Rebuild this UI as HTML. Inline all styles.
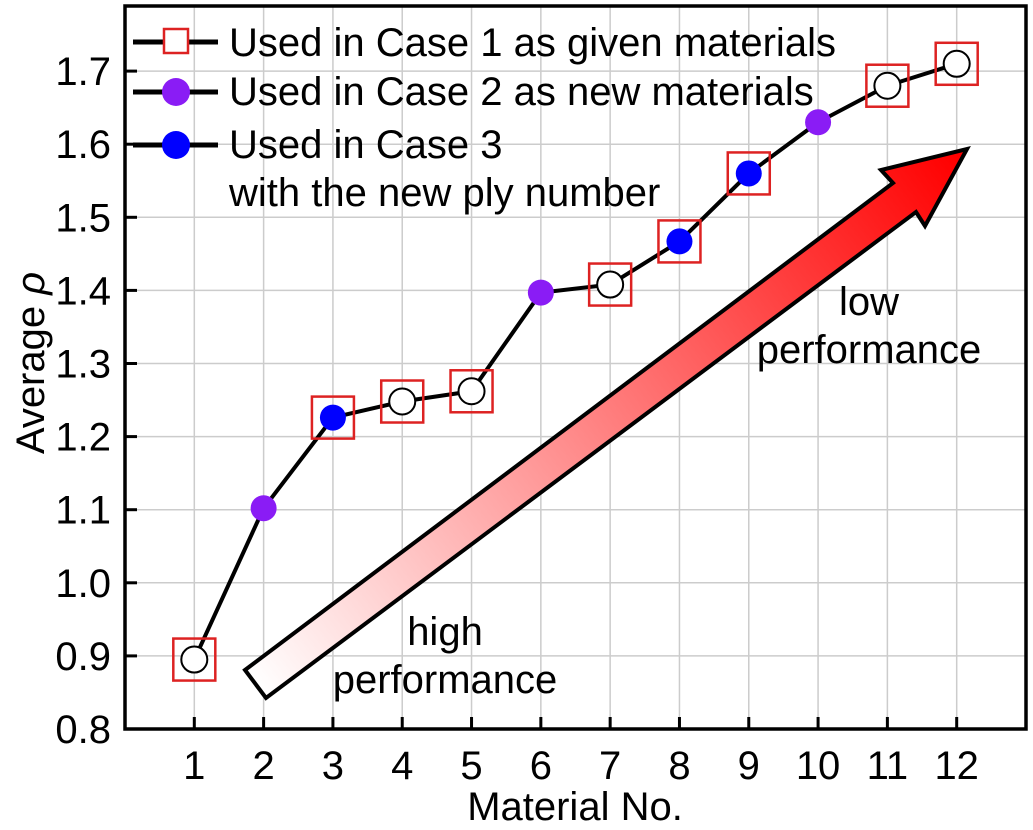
<!DOCTYPE html>
<html><head><meta charset="utf-8"><style>
body{margin:0;background:#fff;}
svg{display:block;font-family:"Liberation Sans",Arial,sans-serif;}
</style></head><body>
<svg id="chart" width="1033" height="830">
<defs><linearGradient id="ag" x1="256" y1="684" x2="960" y2="160" gradientUnits="userSpaceOnUse"><stop offset="0" stop-color="#fff"/><stop offset="1" stop-color="#ff0000"/></linearGradient></defs>
<g id="grid"></g>
<polygon points="245,670 893,183 881,170 967,149 925,226 916,212 266,698" fill="url(#ag)" stroke="#000" stroke-width="4" stroke-linejoin="miter"/>
<text x="445" y="645" font-size="40" text-anchor="middle">high</text>
<text x="445" y="693" font-size="40" text-anchor="middle">performance</text>
<text x="869" y="315" font-size="40" text-anchor="middle">low</text>
<text x="869" y="363" font-size="40" text-anchor="middle">performance</text>
<g id="series"></g>
<g id="axes"></g>
<g font-size="40">
<line x1="133" y1="42" x2="218" y2="42" stroke="#000" stroke-width="5"/>
<rect x="164" y="29" width="24" height="24" fill="#fff" stroke="#d22" stroke-width="2.5"/>
<text x="229" y="56">Used in Case 1 as given materials</text>
<line x1="133" y1="92" x2="218" y2="92" stroke="#000" stroke-width="5"/>
<circle cx="176" cy="92" r="14" fill="#8a1cf5"/>
<text x="229" y="105">Used in Case 2 as new materials</text>
<line x1="133" y1="145" x2="218" y2="145" stroke="#000" stroke-width="5"/>
<circle cx="176" cy="145" r="14" fill="#0000ff"/>
<text x="229" y="158">Used in Case 3</text>
<text x="229" y="206">with the new ply number</text>
</g>
<text x="575" y="820" font-size="40" text-anchor="middle">Material No.</text>
<text transform="translate(44,363) rotate(-90)" font-size="40" text-anchor="middle">Average <tspan font-style="italic">ρ</tspan></text>
</svg>
<script>
const materials=[1,2,3,4,5,6,7,8,9,10,11,12];
const avgRho=[0.895,1.102,1.226,1.248,1.262,1.397,1.408,1.467,1.56,1.63,1.68,1.71];
const case1=[1,3,4,5,7,8,9,11,12];
const openCircle=[1,4,5,7,11,12];
const case2=[2,6,10];
const case3=[3,8,9];
const xTicks=[1,2,3,4,5,6,7,8,9,10,11,12];
const yTicks=[0.8,0.9,1.0,1.1,1.2,1.3,1.4,1.5,1.6,1.7];
const L=125,R=1026,T=6,B=729,xMin=0,xMax=13,yMin=0.8;
const sx=v=>L+(v-xMin)/(xMax-xMin)*(R-L);
const sy=v=>B-(v-yMin)/0.1*73.1;
const NS="http://www.w3.org/2000/svg";
function mk(p,t,a){const e=document.createElementNS(NS,t);for(const k in a)e.setAttribute(k,a[k]);p.appendChild(e);return e;}
const grid=document.getElementById('grid'),axes=document.getElementById('axes'),ser=document.getElementById('series');
xTicks.forEach(v=>{const g=mk(grid,'line',{x1:sx(v),x2:sx(v),y1:T,y2:B,stroke:'#ccc','stroke-width':1.5});

const t=mk(axes,'line',{x1:sx(v),x2:sx(v),y1:B,y2:B-12,stroke:'#000','stroke-width':3});

const l=mk(axes,'text',{x:sx(v),y:B+50,'font-size':40,'text-anchor':'middle'});l.textContent=v;
});
yTicks.forEach(v=>{const g=mk(grid,'line',{x1:L,x2:R,y1:sy(v),y2:sy(v),stroke:'#ccc','stroke-width':1.5});

const t=mk(axes,'line',{x1:L,x2:L+12,y1:sy(v),y2:sy(v),stroke:'#000','stroke-width':3});

const l=mk(axes,'text',{x:L-14,y:sy(v)+14,'font-size':40,'text-anchor':'end'});l.textContent=v.toFixed(1);
});
const fr=mk(axes,'rect',{x:L,y:T,width:R-L,height:B-T,fill:'none',stroke:'#000','stroke-width':3.5});

const pts=materials.map((m,i)=>sx(m)+','+sy(avgRho[i])).join(' ');
const ln=mk(ser,'polyline',{points:pts,fill:'none',stroke:'#000','stroke-width':4});

const val=m=>avgRho[materials.indexOf(m)];
case1.forEach(m=>{const r=mk(ser,'rect',{x:sx(m)-21,y:sy(val(m))-21,width:42,height:42,fill:'none',stroke:'#d22','stroke-width':2.5});
});
openCircle.forEach(m=>{const c=mk(ser,'circle',{cx:sx(m),cy:sy(val(m)),r:13,fill:'#fff',stroke:'#000','stroke-width':2});
});
case2.forEach(m=>{const c=mk(ser,'circle',{cx:sx(m),cy:sy(val(m)),r:13,fill:'#8a1cf5'});
});
case3.forEach(m=>{const c=mk(ser,'circle',{cx:sx(m),cy:sy(val(m)),r:13,fill:'#0000ff'});
});
</script>
</body></html>
